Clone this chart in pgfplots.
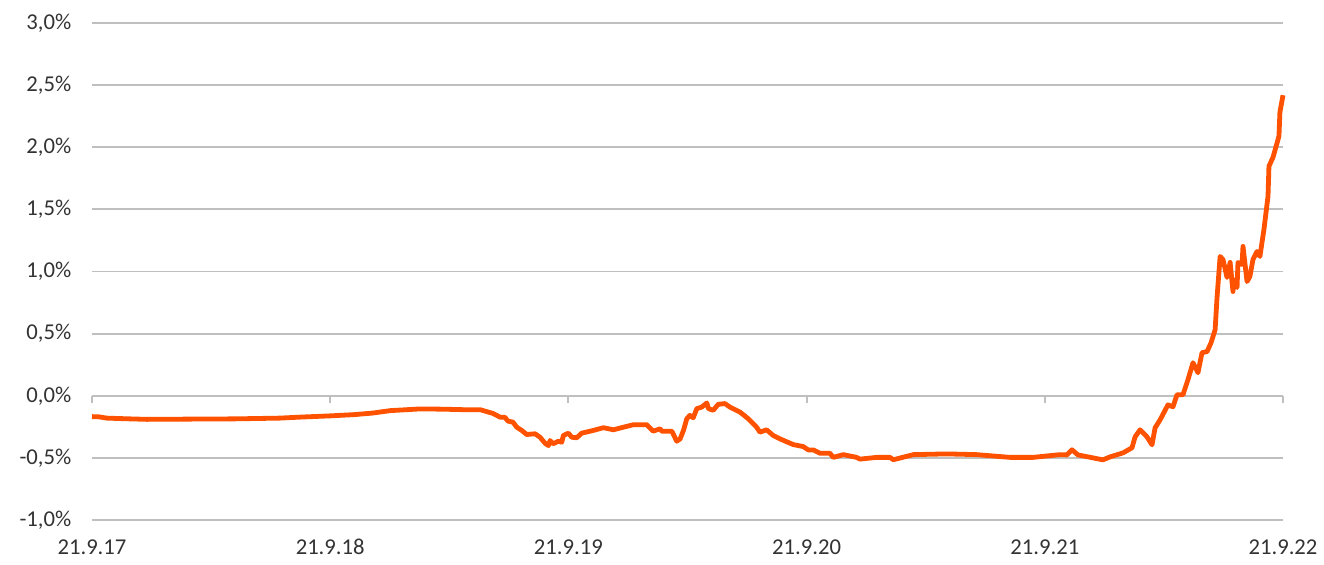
\documentclass[border=0pt]{standalone}
\usepackage{pgfplots}
\pgfplotsset{compat=1.18}
\usepackage{fontspec}
\setmainfont{Carlito}
\usetikzlibrary{calc}
\definecolor{ingorange}{HTML}{FF5200}
\definecolor{gridgray}{HTML}{BFBFBF}
\definecolor{txt}{HTML}{333333}
\begin{document}
\begin{tikzpicture}
\begin{axis}[
  scale only axis,
  width=893.25pt, height=372.75pt,
  xmin=0, xmax=5, ymin=-1, ymax=3,
  axis line style={draw=none},
  xtick={0,1,2,3,4,5},
  xticklabels={21.9.17,21.9.18,21.9.19,21.9.20,21.9.21,21.9.22},
  ytick={-1,-0.5,0,0.5,1,1.5,2,2.5,3},
  yticklabel={\pgfmathprintnumber[fixed,fixed zerofill,precision=1,use comma]{\tick}\%},
  /pgf/number format/assume math mode=true,
  major tick length=0pt,
  tick style={draw=none},
  ymajorgrids,
  grid style={gridgray, line width=1.4pt},
  ticklabel style={font=\fontsize{17}{20}\selectfont, text=txt},
  yticklabel style={xshift=-12pt},
  xticklabel style={yshift=-11pt},
  clip=false,
]
\draw[gridgray, line width=1.4pt] (axis cs:0,0) -- (axis cs:5,0);
\draw[gridgray, line width=1.4pt] (axis cs:0,0) -- ([yshift=-5.5pt]axis cs:0,0);
\draw[gridgray, line width=1.4pt] (axis cs:1,0) -- ([yshift=-5.5pt]axis cs:1,0);
\draw[gridgray, line width=1.4pt] (axis cs:2,0) -- ([yshift=-5.5pt]axis cs:2,0);
\draw[gridgray, line width=1.4pt] (axis cs:3,0) -- ([yshift=-5.5pt]axis cs:3,0);
\draw[gridgray, line width=1.4pt] (axis cs:4,0) -- ([yshift=-5.5pt]axis cs:4,0);
\draw[gridgray, line width=1.4pt] (axis cs:5,0) -- ([yshift=-5.5pt]axis cs:5,0);
\addplot[ingorange, line width=3.6pt, line join=round] coordinates {
(0.000,-0.168) (0.030,-0.170) (0.062,-0.180) (0.140,-0.185) (0.230,-0.190) (0.411,-0.188)
(0.600,-0.186) (0.789,-0.180) (0.873,-0.172) (0.999,-0.162) (1.100,-0.152) (1.180,-0.139)
(1.251,-0.120) (1.377,-0.106) (1.470,-0.108) (1.558,-0.112) (1.629,-0.112)
(1.683,-0.142) (1.713,-0.172) (1.734,-0.174) (1.746,-0.204) (1.767,-0.212)
(1.783,-0.253) (1.804,-0.279) (1.825,-0.312) (1.860,-0.306) (1.881,-0.334)
(1.902,-0.382) (1.916,-0.401) (1.923,-0.360) (1.935,-0.387) (1.958,-0.366)
(1.972,-0.374) (1.979,-0.320) (2.000,-0.301) (2.014,-0.334) (2.035,-0.338)
(2.056,-0.301) (2.105,-0.279) (2.147,-0.257) (2.189,-0.274) (2.231,-0.253)
(2.273,-0.233) (2.329,-0.233) (2.356,-0.285) (2.385,-0.266) (2.392,-0.285)
(2.434,-0.285) (2.455,-0.366) (2.469,-0.347) (2.483,-0.279) (2.497,-0.185)
(2.510,-0.158) (2.524,-0.177) (2.539,-0.104) (2.560,-0.091) (2.581,-0.058)
(2.588,-0.104) (2.608,-0.117) (2.629,-0.069) (2.657,-0.063) (2.678,-0.091)
(2.720,-0.131) (2.755,-0.185) (2.790,-0.253) (2.804,-0.293) (2.832,-0.274)
(2.860,-0.320) (2.888,-0.347) (2.944,-0.393) (2.986,-0.409) (3.007,-0.436)
(3.028,-0.436) (3.056,-0.463) (3.098,-0.463) (3.112,-0.496) (3.154,-0.474)
(3.210,-0.496) (3.224,-0.510) (3.294,-0.496) (3.350,-0.496) (3.364,-0.515)
(3.448,-0.474) (3.588,-0.468) (3.714,-0.474) (3.854,-0.496) (3.950,-0.496)
(4.064,-0.474) (4.093,-0.476) (4.114,-0.435) (4.139,-0.476)
(4.202,-0.500) (4.244,-0.516) (4.274,-0.492) (4.328,-0.460) (4.366,-0.419)
(4.379,-0.331) (4.400,-0.274) (4.429,-0.331) (4.450,-0.395) (4.463,-0.258)
(4.484,-0.194) (4.517,-0.073) (4.538,-0.089) (4.555,0.008) (4.580,0.008)
(4.601,0.129) (4.622,0.266) (4.643,0.185) (4.660,0.347) (4.681,0.355)
(4.698,0.427) (4.715,0.532) (4.723,0.790) (4.736,1.121) (4.748,1.097)
(4.765,0.952) (4.778,1.073) (4.790,0.839) (4.794,0.935) (4.807,0.871)
(4.811,1.073) (4.828,1.056) (4.832,1.202) (4.849,0.919) (4.861,0.960)
(4.874,1.097) (4.891,1.161) (4.903,1.121) (4.920,1.339) (4.937,1.605)
(4.941,1.847) (4.958,1.919) (4.983,2.089) (4.987,2.282) (5.000,2.419)
};
\end{axis}
\pgfresetboundingbox
\path ($(current axis.south west)+(-69pt,-33pt)$) rectangle ($(current axis.north east)+(30.75pt,17.25pt)$);
\end{tikzpicture}
\end{document}
